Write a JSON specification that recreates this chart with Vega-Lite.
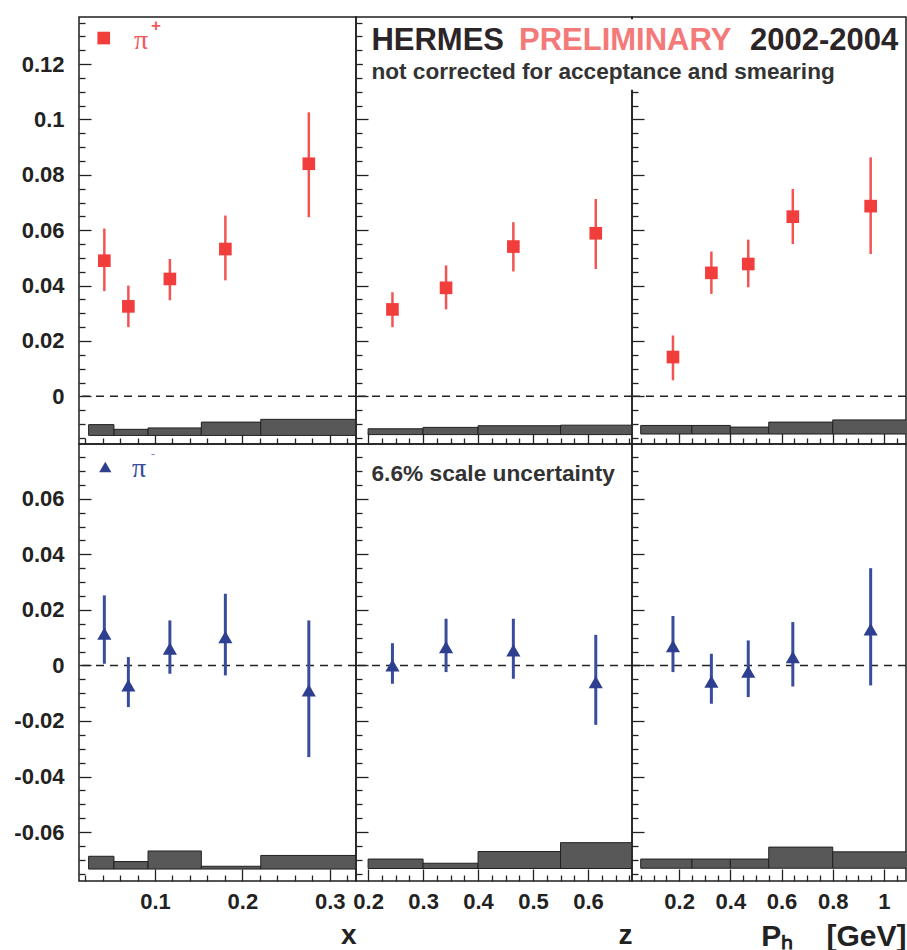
{
  "$schema": "https://vega.github.io/schema/vega-lite/v6.json",
  "background": "white",
  "padding": {"left": 13, "top": 10, "right": 2, "bottom": 2},
  "bounds": "flush",
  "align": "each",
  "spacing": 0,
  "columns": 3,
  "config": {
    "view": {"stroke": "#1e1e1e", "strokeWidth": 1.5},
    "axis": {"domain": false, "grid": false, "labelFont": "Liberation Sans", "labelFontWeight": "bold", "labelFontSize": 22, "labelColor": "#222222", "tickColor": "#222222", "tickWidth": 1.3, "labelOverlap": false, "labelFlush": false, "titleFont": "Liberation Sans", "titleFontWeight": "bold", "titleFontSize": 28, "titleColor": "#222222"}
  },
  "datasets": {
    "pts": [
      {"panel": "x+", "v": 0.042, "y": 0.049, "lo": 0.038, "hi": 0.0606},
      {"panel": "x+", "v": 0.0695, "y": 0.0325, "lo": 0.025, "hi": 0.040},
      {"panel": "x+", "v": 0.117, "y": 0.0424, "lo": 0.0347, "hi": 0.0496},
      {"panel": "x+", "v": 0.1805, "y": 0.0532, "lo": 0.0419, "hi": 0.0653},
      {"panel": "x+", "v": 0.276, "y": 0.084, "lo": 0.0647, "hi": 0.1026},
      {"panel": "z+", "v": 0.2443, "y": 0.0314, "lo": 0.025, "hi": 0.0376},
      {"panel": "z+", "v": 0.3418, "y": 0.0392, "lo": 0.0314, "hi": 0.0473},
      {"panel": "z+", "v": 0.4642, "y": 0.0541, "lo": 0.0451, "hi": 0.0629},
      {"panel": "z+", "v": 0.6141, "y": 0.0589, "lo": 0.046, "hi": 0.0713},
      {"panel": "p+", "v": 0.176, "y": 0.0142, "lo": 0.0058, "hi": 0.022},
      {"panel": "p+", "v": 0.326, "y": 0.0446, "lo": 0.037, "hi": 0.0523},
      {"panel": "p+", "v": 0.470, "y": 0.0478, "lo": 0.0394, "hi": 0.0566},
      {"panel": "p+", "v": 0.644, "y": 0.0649, "lo": 0.055, "hi": 0.0749},
      {"panel": "p+", "v": 0.948, "y": 0.0687, "lo": 0.0514, "hi": 0.0863},
      {"panel": "x-", "v": 0.042, "y": 0.0114, "lo": 0.0006, "hi": 0.0252},
      {"panel": "x-", "v": 0.0695, "y": -0.0072, "lo": -0.015, "hi": 0.003},
      {"panel": "x-", "v": 0.117, "y": 0.006, "lo": -0.003, "hi": 0.0162},
      {"panel": "x-", "v": 0.1805, "y": 0.0102, "lo": -0.0036, "hi": 0.0258},
      {"panel": "x-", "v": 0.276, "y": -0.009, "lo": -0.033, "hi": 0.0162},
      {"panel": "z-", "v": 0.2443, "y": 0.0, "lo": -0.0066, "hi": 0.008},
      {"panel": "z-", "v": 0.3418, "y": 0.0066, "lo": -0.0024, "hi": 0.0168},
      {"panel": "z-", "v": 0.4642, "y": 0.0054, "lo": -0.0048, "hi": 0.0168},
      {"panel": "z-", "v": 0.6141, "y": -0.006, "lo": -0.0214, "hi": 0.011},
      {"panel": "p-", "v": 0.176, "y": 0.0069, "lo": -0.0024, "hi": 0.0178},
      {"panel": "p-", "v": 0.326, "y": -0.0058, "lo": -0.0138, "hi": 0.0042},
      {"panel": "p-", "v": 0.470, "y": -0.0022, "lo": -0.0114, "hi": 0.009},
      {"panel": "p-", "v": 0.644, "y": 0.003, "lo": -0.0076, "hi": 0.0156},
      {"panel": "p-", "v": 0.948, "y": 0.013, "lo": -0.0072, "hi": 0.035}
    ],
    "sys": [
      {"panel": "x+", "v": 0.024, "v2": 0.053, "y": -0.0141, "y2": -0.0102},
      {"panel": "x+", "v": 0.053, "v2": 0.092, "y": -0.0141, "y2": -0.0119},
      {"panel": "x+", "v": 0.092, "v2": 0.153, "y": -0.0141, "y2": -0.0114},
      {"panel": "x+", "v": 0.153, "v2": 0.221, "y": -0.0141, "y2": -0.0093},
      {"panel": "x+", "v": 0.221, "v2": 0.4, "y": -0.0141, "y2": -0.0083},
      {"panel": "z+", "v": 0.2, "v2": 0.3, "y": -0.0138, "y2": -0.0117},
      {"panel": "z+", "v": 0.3, "v2": 0.4, "y": -0.0138, "y2": -0.0112},
      {"panel": "z+", "v": 0.4, "v2": 0.55, "y": -0.0138, "y2": -0.0106},
      {"panel": "z+", "v": 0.55, "v2": 0.7, "y": -0.0138, "y2": -0.0104},
      {"panel": "p+", "v": 0.05, "v2": 0.25, "y": -0.0136, "y2": -0.0105},
      {"panel": "p+", "v": 0.25, "v2": 0.4, "y": -0.0136, "y2": -0.0105},
      {"panel": "p+", "v": 0.4, "v2": 0.55, "y": -0.0136, "y2": -0.0111},
      {"panel": "p+", "v": 0.55, "v2": 0.8, "y": -0.0136, "y2": -0.0093},
      {"panel": "p+", "v": 0.8, "v2": 1.2, "y": -0.0136, "y2": -0.0085},
      {"panel": "x-", "v": 0.024, "v2": 0.053, "y": -0.0733, "y2": -0.0687},
      {"panel": "x-", "v": 0.053, "v2": 0.092, "y": -0.0733, "y2": -0.0706},
      {"panel": "x-", "v": 0.092, "v2": 0.153, "y": -0.0733, "y2": -0.0668},
      {"panel": "x-", "v": 0.153, "v2": 0.221, "y": -0.0733, "y2": -0.0723},
      {"panel": "x-", "v": 0.221, "v2": 0.4, "y": -0.0733, "y2": -0.0684},
      {"panel": "z-", "v": 0.2, "v2": 0.3, "y": -0.0731, "y2": -0.0697},
      {"panel": "z-", "v": 0.3, "v2": 0.4, "y": -0.0731, "y2": -0.0712},
      {"panel": "z-", "v": 0.4, "v2": 0.55, "y": -0.0731, "y2": -0.067},
      {"panel": "z-", "v": 0.55, "v2": 0.7, "y": -0.0731, "y2": -0.0638},
      {"panel": "p-", "v": 0.05, "v2": 0.25, "y": -0.073, "y2": -0.0697},
      {"panel": "p-", "v": 0.25, "v2": 0.4, "y": -0.073, "y2": -0.0697},
      {"panel": "p-", "v": 0.4, "v2": 0.55, "y": -0.073, "y2": -0.0697},
      {"panel": "p-", "v": 0.55, "v2": 0.8, "y": -0.073, "y2": -0.0654},
      {"panel": "p-", "v": 0.8, "v2": 1.2, "y": -0.073, "y2": -0.0671}
    ]
  },
  "concat": [
    {
      "width": 277, "height": 427,
      "layer": [
        {"data": {"name": "sys"}, "transform": [{"filter": "datum.panel === 'x+'"}],
         "mark": {"type": "rect", "clip": true, "fill": "#585858", "stroke": "#202020", "strokeWidth": 1},
         "encoding": {
           "x": {"field": "v", "type": "quantitative", "scale": {"domain": [0.013, 0.33], "nice": false, "zero": false},
                 "axis": {"values": [0.02,0.04,0.06,0.08,0.1,0.12,0.14,0.16,0.18,0.2,0.22,0.24,0.26,0.28,0.3,0.32], "tickCount": 500, "labels": false, "title": null, "labelOverlap": false,
                          "tickSize": {"condition": {"test": "abs(datum.value*10-round(datum.value*10))<0.01", "value": -12}, "value": -6}}},
           "x2": {"field": "v2"},
           "y": {"field": "y", "type": "quantitative", "scale": {"domain": [-0.0172, 0.137], "nice": false, "zero": false},
                 "axis": {"values": [-0.015,-0.01,-0.005,0,0.005,0.01,0.015,0.02,0.025,0.03,0.035,0.04,0.045,0.05,0.055,0.06,0.065,0.07,0.075,0.08,0.085,0.09,0.095,0.1,0.105,0.11,0.115,0.12,0.125,0.13,0.135], "tickCount": 500,
                          "title": null, "labelPadding": 27, "labelOverlap": false, "labelFlush": false,
                          "labelExpr": "abs(datum.value*50-round(datum.value*50))<0.01 ? (datum.value < -0.0001 ? '-' : '') + format(abs(datum.value), '~g') : ''",
                          "tickSize": {"condition": {"test": "abs(datum.value*50-round(datum.value*50))<0.01", "value": -12}, "value": -6}}},
           "y2": {"field": "y2"}}},
        {"data": {"values": [{}]}, "mark": {"type": "rule", "strokeDash": [8, 6], "strokeWidth": 1.5, "color": "#222222"},
         "encoding": {"y": {"datum": 0, "type": "quantitative"}}},
        {"data": {"name": "pts"}, "transform": [{"filter": "datum.panel === 'x+'"}],
         "mark": {"type": "rule", "strokeWidth": 2.5, "color": "#f25454"},
         "encoding": {"x": {"field": "v", "type": "quantitative"}, "y": {"field": "lo", "type": "quantitative"}, "y2": {"field": "hi"}}},
        {"data": {"name": "pts"}, "transform": [{"filter": "datum.panel === 'x+'"}],
         "mark": {"type": "point", "shape": "square", "filled": true, "opacity": 1, "size": 160, "color": "#f23d3d"},
         "encoding": {"x": {"field": "v", "type": "quantitative"}, "y": {"field": "y", "type": "quantitative"}}},
        {"data": {"values": [{}]},
         "mark": {"type": "point", "shape": "square", "filled": true, "opacity": 1, "size": 160, "color": "#f23d3d"},
         "encoding": {"x": {"datum": 0.0413, "type": "quantitative"}, "y": {"datum": 0.1294, "type": "quantitative"}}},
        {"data": {"values": [{}]},
         "mark": {"type": "text", "text": "π", "align": "left", "baseline": "alphabetic", "font": "Liberation Serif", "fontSize": 28, "fill": "#f25a5a"},
         "encoding": {"x": {"datum": 0.0759, "type": "quantitative"}, "y": {"datum": 0.1253, "type": "quantitative"}}},
        {"data": {"values": [{}]},
         "mark": {"type": "text", "text": "+", "align": "center", "baseline": "middle", "font": "Liberation Sans", "fontWeight": "bold", "fontSize": 17, "fill": "#f25a5a"},
         "encoding": {"x": {"datum": 0.1011, "type": "quantitative"}, "y": {"datum": 0.1339, "type": "quantitative"}}}
      ]
    },
    {
      "width": 276, "height": 427,
      "layer": [
        {"data": {"name": "sys"}, "transform": [{"filter": "datum.panel === 'z+'"}],
         "mark": {"type": "rect", "clip": true, "fill": "#585858", "stroke": "#202020", "strokeWidth": 1},
         "encoding": {
           "x": {"field": "v", "type": "quantitative", "scale": {"domain": [0.178, 0.68], "nice": false, "zero": false},
                 "axis": {"values": [0.2,0.225,0.25,0.275,0.3,0.325,0.35,0.375,0.4,0.425,0.45,0.475,0.5,0.525,0.55,0.575,0.6,0.625,0.65,0.675], "tickCount": 500, "labels": false, "title": null, "labelOverlap": false,
                          "tickSize": {"condition": {"test": "abs(datum.value*10-round(datum.value*10))<0.01", "value": -12}, "value": -6}}},
           "x2": {"field": "v2"},
           "y": {"field": "y", "type": "quantitative", "scale": {"domain": [-0.0172, 0.137], "nice": false, "zero": false},
                 "axis": {"values": [-0.015,-0.01,-0.005,0,0.005,0.01,0.015,0.02,0.025,0.03,0.035,0.04,0.045,0.05,0.055,0.06,0.065,0.07,0.075,0.08,0.085,0.09,0.095,0.1,0.105,0.11,0.115,0.12,0.125,0.13,0.135], "tickCount": 500,
                          "title": null, "labels": false, "labelOverlap": false,
                          "tickSize": {"condition": {"test": "abs(datum.value*50-round(datum.value*50))<0.01", "value": -12}, "value": -6}}},
           "y2": {"field": "y2"}}},
        {"data": {"values": [{}]}, "mark": {"type": "rule", "strokeDash": [8, 6], "strokeWidth": 1.5, "color": "#222222"},
         "encoding": {"y": {"datum": 0, "type": "quantitative"}}},
        {"data": {"name": "pts"}, "transform": [{"filter": "datum.panel === 'z+'"}],
         "mark": {"type": "rule", "strokeWidth": 2.5, "color": "#f25454"},
         "encoding": {"x": {"field": "v", "type": "quantitative"}, "y": {"field": "lo", "type": "quantitative"}, "y2": {"field": "hi"}}},
        {"data": {"name": "pts"}, "transform": [{"filter": "datum.panel === 'z+'"}],
         "mark": {"type": "point", "shape": "square", "filled": true, "opacity": 1, "size": 160, "color": "#f23d3d"},
         "encoding": {"x": {"field": "v", "type": "quantitative"}, "y": {"field": "y", "type": "quantitative"}}}
      ]
    },
    {
      "width": 274, "height": 427,
      "layer": [
        {"data": {"name": "sys"}, "transform": [{"filter": "datum.panel === 'p+'"}],
         "mark": {"type": "rect", "clip": true, "fill": "#585858", "stroke": "#202020", "strokeWidth": 1},
         "encoding": {
           "x": {"field": "v", "type": "quantitative", "scale": {"domain": [0.016, 1.086], "nice": false, "zero": false},
                 "axis": {"values": [0.05,0.1,0.15,0.2,0.25,0.3,0.35,0.4,0.45,0.5,0.55,0.6,0.65,0.7,0.75,0.8,0.85,0.9,0.95,1,1.05], "tickCount": 500, "labels": false, "title": null, "labelOverlap": false,
                          "tickSize": {"condition": {"test": "abs(datum.value*5-round(datum.value*5))<0.01", "value": -12}, "value": -6}}},
           "x2": {"field": "v2"},
           "y": {"field": "y", "type": "quantitative", "scale": {"domain": [-0.0172, 0.137], "nice": false, "zero": false},
                 "axis": {"values": [-0.015,-0.01,-0.005,0,0.005,0.01,0.015,0.02,0.025,0.03,0.035,0.04,0.045,0.05,0.055,0.06,0.065,0.07,0.075,0.08,0.085,0.09,0.095,0.1,0.105,0.11,0.115,0.12,0.125,0.13,0.135], "tickCount": 500,
                          "title": null, "labels": false, "labelOverlap": false,
                          "tickSize": {"condition": {"test": "abs(datum.value*50-round(datum.value*50))<0.01", "value": -12}, "value": -6}}},
           "y2": {"field": "y2"}}},
        {"data": {"values": [{}]}, "mark": {"type": "rule", "strokeDash": [8, 6], "strokeWidth": 1.5, "color": "#222222"},
         "encoding": {"y": {"datum": 0, "type": "quantitative"}}},
        {"data": {"name": "pts"}, "transform": [{"filter": "datum.panel === 'p+'"}],
         "mark": {"type": "rule", "strokeWidth": 2.5, "color": "#f25454"},
         "encoding": {"x": {"field": "v", "type": "quantitative"}, "y": {"field": "lo", "type": "quantitative"}, "y2": {"field": "hi"}}},
        {"data": {"name": "pts"}, "transform": [{"filter": "datum.panel === 'p+'"}],
         "mark": {"type": "point", "shape": "square", "filled": true, "opacity": 1, "size": 160, "color": "#f23d3d"},
         "encoding": {"x": {"field": "v", "type": "quantitative"}, "y": {"field": "y", "type": "quantitative"}}},
        {"data": {"values": [{}]},
         "mark": {"type": "rect", "fill": "white", "strokeWidth": 0},
         "encoding": {"x": {"datum": -1.035, "type": "quantitative"}, "x2": {"datum": 1.07}, "y": {"datum": 0.1362, "type": "quantitative"}, "y2": {"datum": 0.1107}}},
        {"data": {"values": [{}]},
         "mark": {"type": "text", "text": "HERMES", "align": "left", "baseline": "alphabetic", "font": "Liberation Sans", "fontWeight": "bold", "fontSize": 31, "fill": "#2b2528"},
         "encoding": {"x": {"datum": -1.0016, "type": "quantitative"}, "y": {"datum": 0.1251, "type": "quantitative"}}},
        {"data": {"values": [{}]},
         "mark": {"type": "text", "text": "PRELIMINARY", "align": "left", "baseline": "alphabetic", "font": "Liberation Sans", "fontWeight": "bold", "fontSize": 31, "fill": "#f47a7a"},
         "encoding": {"x": {"datum": -0.4254, "type": "quantitative"}, "y": {"datum": 0.1251, "type": "quantitative"}}},
        {"data": {"values": [{}]},
         "mark": {"type": "text", "text": "2002-2004", "align": "left", "baseline": "alphabetic", "font": "Liberation Sans", "fontWeight": "bold", "fontSize": 31, "fill": "#2b2528"},
         "encoding": {"x": {"datum": 0.477, "type": "quantitative"}, "y": {"datum": 0.1251, "type": "quantitative"}}},
        {"data": {"values": [{}]},
         "mark": {"type": "text", "text": "not corrected for acceptance and smearing", "align": "left", "baseline": "alphabetic", "font": "Liberation Sans", "fontWeight": "bold", "fontSize": 22.6, "fill": "#333333"},
         "encoding": {"x": {"datum": -1.0016, "type": "quantitative"}, "y": {"datum": 0.1145, "type": "quantitative"}}}
      ]
    },
    {
      "width": 277, "height": 437,
      "layer": [
        {"data": {"name": "sys"}, "transform": [{"filter": "datum.panel === 'x-'"}],
         "mark": {"type": "rect", "clip": true, "fill": "#585858", "stroke": "#202020", "strokeWidth": 1},
         "encoding": {
           "x": {"field": "v", "type": "quantitative", "scale": {"domain": [0.013, 0.33], "nice": false, "zero": false},
                 "axis": {"values": [0.02,0.04,0.06,0.08,0.1,0.12,0.14,0.16,0.18,0.2,0.22,0.24,0.26,0.28,0.3,0.32], "tickCount": 500,
                          "labelExpr": "abs(datum.value*10-round(datum.value*10))<0.01 ? format(datum.value, '~g') : ''",
                          "labelPadding": 22, "labelOverlap": false, "labelFlush": false, "title": "x", "titleAnchor": "end", "titlePadding": 3,
                          "tickSize": {"condition": {"test": "abs(datum.value*10-round(datum.value*10))<0.01", "value": -12}, "value": -6}}},
           "x2": {"field": "v2"},
           "y": {"field": "y", "type": "quantitative", "scale": {"domain": [-0.0776, 0.0797], "nice": false, "zero": false},
                 "axis": {"values": [-0.075,-0.07,-0.065,-0.06,-0.055,-0.05,-0.045,-0.04,-0.035,-0.03,-0.025,-0.02,-0.015,-0.01,-0.005,0,0.005,0.01,0.015,0.02,0.025,0.03,0.035,0.04,0.045,0.05,0.055,0.06,0.065,0.07,0.075], "tickCount": 500,
                          "title": null, "labelPadding": 27, "labelOverlap": false, "labelFlush": false,
                          "labelExpr": "abs(datum.value*50-round(datum.value*50))<0.01 ? (datum.value < -0.0001 ? '-' : '') + format(abs(datum.value), '~g') : ''",
                          "tickSize": {"condition": {"test": "abs(datum.value*50-round(datum.value*50))<0.01", "value": -12}, "value": -6}}},
           "y2": {"field": "y2"}}},
        {"data": {"values": [{}]}, "mark": {"type": "rule", "strokeDash": [8, 6], "strokeWidth": 1.5, "color": "#222222"},
         "encoding": {"y": {"datum": 0, "type": "quantitative"}}},
        {"data": {"name": "pts"}, "transform": [{"filter": "datum.panel === 'x-'"}],
         "mark": {"type": "rule", "strokeWidth": 3, "color": "#3a4d9c"},
         "encoding": {"x": {"field": "v", "type": "quantitative"}, "y": {"field": "lo", "type": "quantitative"}, "y2": {"field": "hi"}}},
        {"data": {"name": "pts"}, "transform": [{"filter": "datum.panel === 'x-'"}],
         "mark": {"type": "point", "shape": "triangle-up", "filled": true, "opacity": 1, "size": 200, "color": "#2e3f8f"},
         "encoding": {"x": {"field": "v", "type": "quantitative"}, "y": {"field": "y", "type": "quantitative"}}},
        {"data": {"values": [{}]},
         "mark": {"type": "point", "shape": "triangle-up", "filled": true, "opacity": 1, "size": 150, "color": "#2e3f8f"},
         "encoding": {"x": {"datum": 0.0431, "type": "quantitative"}, "y": {"datum": 0.0714, "type": "quantitative"}}},
        {"data": {"values": [{}]},
         "mark": {"type": "text", "text": "π", "align": "left", "baseline": "alphabetic", "font": "Liberation Serif", "fontSize": 28, "fill": "#3a4d9c"},
         "encoding": {"x": {"datum": 0.0737, "type": "quantitative"}, "y": {"datum": 0.0678, "type": "quantitative"}}},
        {"data": {"values": [{}]},
         "mark": {"type": "text", "text": "-", "align": "center", "baseline": "middle", "font": "Liberation Sans", "fontSize": 13, "fill": "#8090c0"},
         "encoding": {"x": {"datum": 0.0977, "type": "quantitative"}, "y": {"datum": 0.0761, "type": "quantitative"}}}
      ]
    },
    {
      "width": 276, "height": 437,
      "layer": [
        {"data": {"name": "sys"}, "transform": [{"filter": "datum.panel === 'z-'"}],
         "mark": {"type": "rect", "clip": true, "fill": "#585858", "stroke": "#202020", "strokeWidth": 1},
         "encoding": {
           "x": {"field": "v", "type": "quantitative", "scale": {"domain": [0.178, 0.68], "nice": false, "zero": false},
                 "axis": {"values": [0.2,0.225,0.25,0.275,0.3,0.325,0.35,0.375,0.4,0.425,0.45,0.475,0.5,0.525,0.55,0.575,0.6,0.625,0.65,0.675], "tickCount": 500,
                          "labelExpr": "abs(datum.value*10-round(datum.value*10))<0.01 ? format(datum.value, '~g') : ''",
                          "labelPadding": 22, "labelOverlap": false, "labelFlush": false, "title": "z", "titleAnchor": "end", "titlePadding": 3,
                          "tickSize": {"condition": {"test": "abs(datum.value*10-round(datum.value*10))<0.01", "value": -12}, "value": -6}}},
           "x2": {"field": "v2"},
           "y": {"field": "y", "type": "quantitative", "scale": {"domain": [-0.0776, 0.0797], "nice": false, "zero": false},
                 "axis": {"values": [-0.075,-0.07,-0.065,-0.06,-0.055,-0.05,-0.045,-0.04,-0.035,-0.03,-0.025,-0.02,-0.015,-0.01,-0.005,0,0.005,0.01,0.015,0.02,0.025,0.03,0.035,0.04,0.045,0.05,0.055,0.06,0.065,0.07,0.075], "tickCount": 500,
                          "title": null, "labels": false, "labelOverlap": false,
                          "tickSize": {"condition": {"test": "abs(datum.value*50-round(datum.value*50))<0.01", "value": -12}, "value": -6}}},
           "y2": {"field": "y2"}}},
        {"data": {"values": [{}]}, "mark": {"type": "rule", "strokeDash": [8, 6], "strokeWidth": 1.5, "color": "#222222"},
         "encoding": {"y": {"datum": 0, "type": "quantitative"}}},
        {"data": {"name": "pts"}, "transform": [{"filter": "datum.panel === 'z-'"}],
         "mark": {"type": "rule", "strokeWidth": 3, "color": "#3a4d9c"},
         "encoding": {"x": {"field": "v", "type": "quantitative"}, "y": {"field": "lo", "type": "quantitative"}, "y2": {"field": "hi"}}},
        {"data": {"name": "pts"}, "transform": [{"filter": "datum.panel === 'z-'"}],
         "mark": {"type": "point", "shape": "triangle-up", "filled": true, "opacity": 1, "size": 200, "color": "#2e3f8f"},
         "encoding": {"x": {"field": "v", "type": "quantitative"}, "y": {"field": "y", "type": "quantitative"}}},
        {"data": {"values": [{}]},
         "mark": {"type": "text", "text": "6.6% scale uncertainty", "align": "left", "baseline": "alphabetic", "font": "Liberation Sans", "fontWeight": "bold", "fontSize": 22.7, "fill": "#333333"},
         "encoding": {"x": {"datum": 0.2062, "type": "quantitative"}, "y": {"datum": 0.0663, "type": "quantitative"}}}
      ]
    },
    {
      "width": 274, "height": 437,
      "layer": [
        {"data": {"name": "sys"}, "transform": [{"filter": "datum.panel === 'p-'"}],
         "mark": {"type": "rect", "clip": true, "fill": "#585858", "stroke": "#202020", "strokeWidth": 1},
         "encoding": {
           "x": {"field": "v", "type": "quantitative", "scale": {"domain": [0.016, 1.086], "nice": false, "zero": false},
                 "axis": {"values": [0.05,0.1,0.15,0.2,0.25,0.3,0.35,0.4,0.45,0.5,0.55,0.6,0.65,0.7,0.75,0.8,0.85,0.9,0.95,1,1.05], "tickCount": 500,
                          "labelExpr": "abs(datum.value*5-round(datum.value*5))<0.01 ? format(datum.value, '~g') : ''",
                          "labelPadding": 22, "labelOverlap": false, "labelFlush": false, "title": "Pₕ\u00a0\u00a0\u00a0\u00a0[GeV]", "titleFontSize": 30, "titleAnchor": "end", "titlePadding": 3,
                          "tickSize": {"condition": {"test": "abs(datum.value*5-round(datum.value*5))<0.01", "value": -12}, "value": -6}}},
           "x2": {"field": "v2"},
           "y": {"field": "y", "type": "quantitative", "scale": {"domain": [-0.0776, 0.0797], "nice": false, "zero": false},
                 "axis": {"values": [-0.075,-0.07,-0.065,-0.06,-0.055,-0.05,-0.045,-0.04,-0.035,-0.03,-0.025,-0.02,-0.015,-0.01,-0.005,0,0.005,0.01,0.015,0.02,0.025,0.03,0.035,0.04,0.045,0.05,0.055,0.06,0.065,0.07,0.075], "tickCount": 500,
                          "title": null, "labels": false, "labelOverlap": false,
                          "tickSize": {"condition": {"test": "abs(datum.value*50-round(datum.value*50))<0.01", "value": -12}, "value": -6}}},
           "y2": {"field": "y2"}}},
        {"data": {"values": [{}]}, "mark": {"type": "rule", "strokeDash": [8, 6], "strokeWidth": 1.5, "color": "#222222"},
         "encoding": {"y": {"datum": 0, "type": "quantitative"}}},
        {"data": {"name": "pts"}, "transform": [{"filter": "datum.panel === 'p-'"}],
         "mark": {"type": "rule", "strokeWidth": 3, "color": "#3a4d9c"},
         "encoding": {"x": {"field": "v", "type": "quantitative"}, "y": {"field": "lo", "type": "quantitative"}, "y2": {"field": "hi"}}},
        {"data": {"name": "pts"}, "transform": [{"filter": "datum.panel === 'p-'"}],
         "mark": {"type": "point", "shape": "triangle-up", "filled": true, "opacity": 1, "size": 200, "color": "#2e3f8f"},
         "encoding": {"x": {"field": "v", "type": "quantitative"}, "y": {"field": "y", "type": "quantitative"}}}
      ]
    }
  ]
}
